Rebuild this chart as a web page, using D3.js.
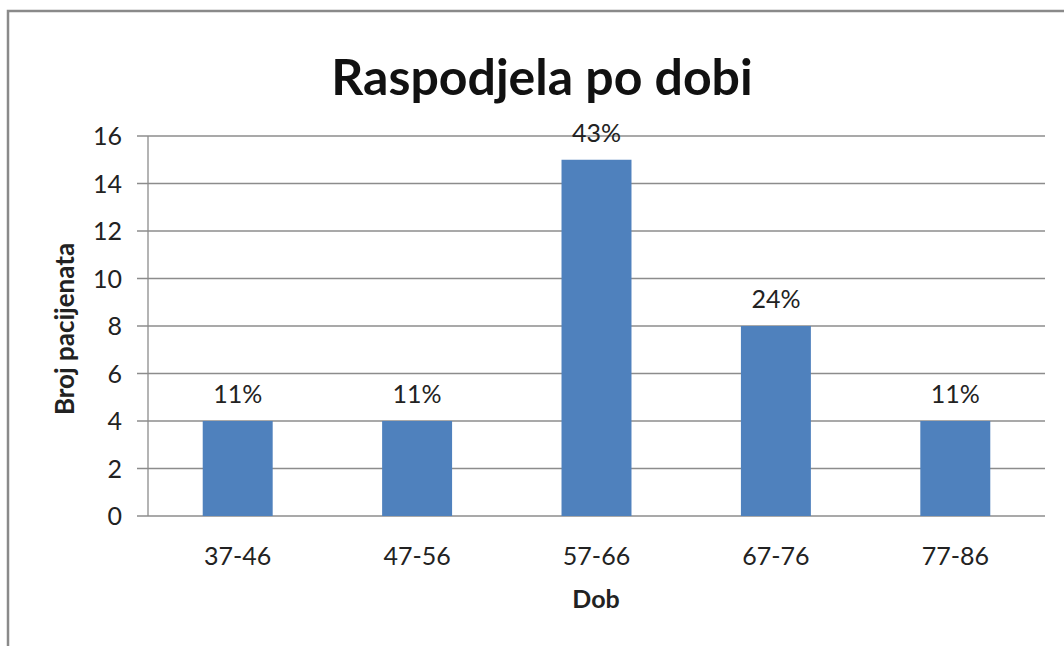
<!DOCTYPE html>
<html>
<head>
<meta charset="utf-8">
<script src="https://cdn.jsdelivr.net/npm/d3@7"></script>
<style>
  body { margin: 0; background: #fff; }
  text { font-family: Lato, "Open Sans", sans-serif; fill: #222; }
</style>
</head>
<body>
<svg width="1064" height="646"></svg>
<script>
// Data
const categories = ["37-46", "47-56", "57-66", "67-76", "77-86"];
const patients = [4, 4, 15, 8, 4];
const shares = ["11%", "11%", "43%", "24%", "11%"];
const yTicks = [0, 2, 4, 6, 8, 10, 12, 14, 16];

const svg = d3.select("svg"),
  width = +svg.attr("width"),
  height = +svg.attr("height");

// outer frame
svg.append("path")
    .attr("d", `M8,${height} V11 H${width}`)
    .attr("fill", "none")
    .attr("stroke", "#8a8a8a")
    .attr("stroke-width", 2.5);

const margin = { left: 148, right: 1045, top: 136, bottom: 516 };

const x = d3.scaleBand()
    .domain(categories)
    .range([margin.left, margin.right])
    .paddingInner(0.61)
    .paddingOuter(0.305);

const y = d3.scaleLinear()
    .domain([0, 16])
    .range([margin.bottom, margin.top]);

// gridlines
svg.append("g")
    .selectAll("line")
    .data(yTicks)
    .join("line")
    .attr("x1", margin.left - 11)
    .attr("x2", margin.right)
    .attr("y1", d => y(d))
    .attr("y2", d => y(d))
    .attr("stroke", "#8c8c8c")
    .attr("stroke-width", 1.3);

// y axis line
svg.append("line")
    .attr("x1", margin.left).attr("x2", margin.left)
    .attr("y1", margin.top).attr("y2", margin.bottom)
    .attr("stroke", "#8c8c8c")
    .attr("stroke-width", 1.3);

// y tick labels
svg.append("g")
    .selectAll("text")
    .data(yTicks)
    .join("text")
    .attr("x", margin.left - 26)
    .attr("y", d => y(d))
    .attr("dy", "0.36em")
    .attr("text-anchor", "end")
    .style("font-size", "25px")
    .text(d => d);

// bars
svg.append("g")
    .selectAll("rect")
    .data(patients)
    .join("rect")
    .attr("x", (d, i) => x(categories[i]))
    .attr("y", d => y(d))
    .attr("width", x.bandwidth())
    .attr("height", d => y(0) - y(d))
    .attr("fill", "#4f81bd");

// percentage labels
svg.append("g")
    .selectAll("text")
    .data(patients)
    .join("text")
    .attr("x", (d, i) => x(categories[i]) + x.bandwidth() / 2)
    .attr("y", d => y(d) - 18)
    .attr("text-anchor", "middle")
    .style("font-size", "25px")
    .text((d, i) => shares[i]);

// x category labels
svg.append("g")
    .selectAll("text")
    .data(categories)
    .join("text")
    .attr("x", d => x(d) + x.bandwidth() / 2)
    .attr("y", margin.bottom + 49)
    .attr("text-anchor", "middle")
    .style("font-size", "25px")
    .text(d => d);

// titles
svg.append("text")
    .attr("x", 542)
    .attr("y", 95)
    .attr("text-anchor", "middle")
    .style("font-size", "50px")
    .style("font-weight", "bold")
    .style("fill", "#111")
    .text("Raspodjela po dobi");

svg.append("text")
    .attr("x", 596)
    .attr("y", 608)
    .attr("text-anchor", "middle")
    .style("font-size", "25px")
    .style("font-weight", "bold")
    .text("Dob");

svg.append("text")
    .attr("transform", "translate(74,329) rotate(-90)")
    .attr("text-anchor", "middle")
    .style("font-size", "26px")
    .style("font-weight", "bold")
    .text("Broj pacijenata");
</script>
</body>
</html>
